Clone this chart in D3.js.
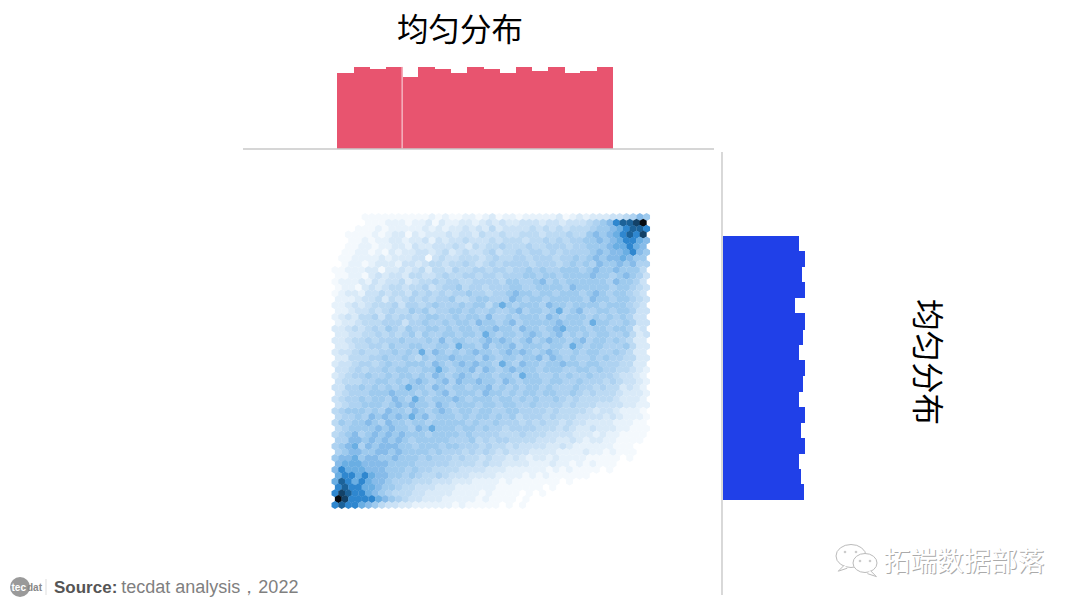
<!DOCTYPE html>
<html><head><meta charset="utf-8">
<script src="https://cdn.jsdelivr.net/npm/d3@7/dist/d3.min.js"></script>
<style>html,body{margin:0;padding:0;background:#fff}svg{display:block}</style>
</head><body><svg id="c" width="1080" height="608"></svg>
<script>
const titleText = "均匀分布";
const topCounts = [76,82,79.5,82,72,82,80,76,82,80,76,82,78,82,76,78,81.5];
const rightCounts = [76,82.3,79.3,82.3,72.3,82.3,80.3,76,82.3,80.3,76,82.3,78,82.3,76,78,81.3];
const levelNames = "0123456789abcd";
const levelColors = ["#ffffff","#f4f9fd","#e7f2fb","#d9eaf8","#cbe2f6","#bcdaf3","#aed2f1","#9ecaee","#86bbe9","#6aaee3","#2f87cf","#1c6299","#134268","#050a10"];
const densityRows = [
"0000111111 1111212112 2123122122 2223123233 3445687",
"0000011122 2122313223 3234343344 4344344456 78abbcd",
"0001112122 2223232334 3435344445 4545455567 789abba",
"0011112123 3132333434 4354454455 5455565578 789abac",
"0011212233 2334243445 4445455545 5656566778 789aa98",
"0011221223 3243344454 3545565556 5566656677 7899a98",
"0112212132 3344345345 4456455656 6565666678 7889a87",
"0112222323 3344145445 5545655665 6665667678 7889877",
"0122123332 4434554556 5456566665 6665676768 7787866",
"1122233133 4345355465 5665665667 6766777678 7787775",
"1122134344 3554456556 6566566677 6776777787 7678764",
"1222324344 5345565665 5666657766 7867677777 7687764",
"1221343455 4556456675 6656667766 7777687777 7677654",
"1233244545 5465656566 7665667877 6776777678 7677654",
"2223445354 5656566755 6776668767 7677777687 7677654",
"2234345556 4665676667 6775797677 7687767777 6777654",
"2234454565 5767566776 7667667867 7679678667 7677644",
"2343556465 6656776676 7768667677 7687677767 6767644",
"2334555666 4667667677 6877678677 7778777697 7667644",
"3345456576 5766776767 7677877687 7678977767 7677634",
"3344556565 6757667767 7697677678 7678676767 7667534",
"3345565666 7666768677 6678787678 6787767867 7676533",
"3345566576 6776677697 7686778677 7677697677 6667533",
"3445655667 6769687676 7877678787 6787667677 6676533",
"3355566766 7657677877 7687677677 8687676676 7665533",
"3445665676 6777687678 7877697687 7677877677 6665533",
"4456566767 7667797677 8687678777 6777667767 6655432",
"3456676676 7767687678 7677677697 7667676676 6654432",
"4555667767 6787678687 7877687677 7677667666 5654432",
"4466767676 7977687677 6778676767 7676667665 6553432",
"4566677787 7767678677 7687767677 6776676565 5543332",
"4566767768 7697677787 6777677676 7667656555 5543332",
"4566777678 7877687677 7677677667 6666565554 4443322",
"5677767687 7687678767 7677667766 6656555543 4432221",
"5667687878 7978677767 6776767566 6565554444 3432221",
"5767787687 7677677777 6766766656 5655454433 3322211",
"5677778787 7687977767 7676656666 5554543343 3322111",
"5678678787 8777677776 7666655565 5544443332 3221111",
"6688787878 7677777666 7565665555 4443343233 2211110",
"6789687888 7767776776 6656554544 4433432222 2211100",
"6788778878 7777676665 6565454443 3332222322 1211100",
"7889788778 7776766656 5545443432 3323222211 1110100",
"8999888877 7766666555 5454433332 2232212121 1100000",
"8a99988877 7676655554 4443332222 2212121111 0100000",
"9aa9a98877 6765565444 3333222212 1211111100 0000000",
"9ba9a98876 6655544433 3222212111 1111010000 0000000",
"abaa998776 5544433322 2222111111 1010000000 0000000",
"acbaa98765 5544333322 2212111101 0100000000 0000000",
"dcaaaa9876 5443332222 2121111010 0000000000 0000000",
"abaa987544 3322222212 1111101010 0000000000 0000000"
];

const svg = d3.select("#c");
const cjk = "'Noto Sans CJK SC','Noto Sans',sans-serif";

// hexbin
const cols = d3.max(densityRows, r => r.replace(/ /g,"").length);
const hx = d3.scaleLinear().domain([0, cols - 1]).range([335, 643.2]);
const hy = d3.scaleLinear().domain([0, densityRows.length - 1]).range([217, 505]);
const step = hx(1) - hx(0);
const radius = step / Math.sqrt(3) + 0.15;
const color = d3.scaleOrdinal(levelNames.split(""), levelColors);
const hexPath = d3.line()(d3.range(6).map(i => {
  const a = Math.PI / 3 * i - Math.PI / 2;
  return [radius * Math.cos(a), radius * Math.sin(a)];
})) + "Z";
const cells = densityRows.flatMap((r, ri) =>
  r.replace(/ /g,"").split("").map((v, ci) => ({ri, ci, v})));
svg.append("g").style("filter","blur(0.6px)").selectAll("path")
  .data(cells.filter(d => d.v !== "0")).join("path")
  .attr("d", hexPath)
  .attr("fill", d => color(d.v))
  .attr("transform", d => {
    const off = (densityRows.length - 1 - d.ri) % 2 ? step / 2 : 0;
    return `translate(${hx(d.ci) + off},${hy(d.ri)})`;
  });

// top histogram
const tx = d3.scaleBand().domain(d3.range(topCounts.length)).range([337.3, 612.8]).paddingInner(0);
const ty = d3.scaleLinear().domain([0, 100]).range([148.5, 48.5]);
svg.append("g").attr("shape-rendering","crispEdges").selectAll("rect").data(topCounts).join("rect")
  .attr("x", (d,i) => tx(i)).attr("width", tx.bandwidth() + 0.6)
  .attr("y", d => ty(d)).attr("height", d => ty(0) - ty(d))
  .attr("fill", "#e8546f");
svg.append("line").attr("x1", tx(4)).attr("x2", tx(4)).attr("y1", ty(topCounts[3]) ).attr("y2", ty(0))
  .attr("stroke", "#fbe3e7").attr("stroke-width", 1);
svg.append("line").attr("x1", 243).attr("x2", 714).attr("y1", 149).attr("y2", 149)
  .attr("stroke", "#c8c8c8").attr("stroke-width", 1.5);

// right histogram
const ry = d3.scaleBand().domain(d3.range(rightCounts.length)).range([235.7, 499.8]).paddingInner(0);
const rx = d3.scaleLinear().domain([0, 100]).range([723, 823]);
svg.append("g").attr("shape-rendering","crispEdges").selectAll("rect").data(rightCounts).join("rect")
  .attr("x", rx(0)).attr("width", d => rx(d) - rx(0))
  .attr("y", (d,i) => ry(i)).attr("height", ry.bandwidth() + 0.6)
  .attr("fill", "#2040e8");
svg.append("line").attr("x1", 722).attr("x2", 722).attr("y1", 152).attr("y2", 595)
  .attr("stroke", "#c4c4c4").attr("stroke-width", 1.3);

// titles
svg.append("text").attr("x", 460).attr("y", 40.5).attr("text-anchor", "middle")
  .attr("font-family", cjk).attr("font-size", 31.5).attr("fill", "#000").text(titleText);
svg.append("text").attr("transform", "translate(916,362) rotate(90)").attr("text-anchor", "middle")
  .attr("font-family", cjk).attr("font-size", 31.5).attr("fill", "#000").text(titleText);

// source
const src = svg.append("g");
src.append("circle").attr("cx", 20).attr("cy", 587).attr("r", 10).attr("fill", "#9a9a9a");
src.append("text").attr("x", 11.5).attr("y", 590.5).attr("font-family","'Liberation Sans',sans-serif").attr("font-size", 10).attr("font-weight","bold").attr("fill","#fff").text("tec");
src.append("text").attr("x", 27).attr("y", 590.5).attr("font-family","'Liberation Sans',sans-serif").attr("font-size", 10).attr("font-weight","bold").attr("fill","#888").text("dat");
src.append("line").attr("x1",46).attr("x2",46).attr("y1",579).attr("y2",595).attr("stroke","#ddd");
const st = src.append("text").attr("x", 54).attr("y", 593).attr("font-family","'Liberation Sans',sans-serif").attr("font-size", 18);
st.append("tspan").attr("fill","#555").attr("font-weight","bold").attr("font-size",17).text("Source:");
st.append("tspan").attr("fill","#808080").attr("dx",4).text("tecdat analysis，2022");

// watermark
const wm = svg.append("g");
const bubble = (cx, cy, rx_, ry_, tailDir) => {
  wm.append("ellipse").attr("cx",cx).attr("cy",cy).attr("rx",rx_).attr("ry",ry_)
    .attr("fill","#fff").attr("stroke","#bbb").attr("stroke-width",1);
  wm.append("path").attr("d",`M${cx+tailDir*rx_*0.45},${cy+ry_*0.8}l${tailDir*6},6l${-tailDir*9},-3`)
    .attr("fill","#fff").attr("stroke","#bbb").attr("stroke-width",1);
};
bubble(851, 556, 15, 11.5, -1);
bubble(865, 563, 12, 9.5, 1);
[[845,552],[856,552],[860,561],[870,561]].forEach(p =>
  wm.append("circle").attr("cx",p[0]).attr("cy",p[1]).attr("r",1.3).attr("fill","#ccc"));
wm.append("text").attr("x",884.5).attr("y",571.5).attr("font-family",cjk).attr("font-size",26.8)
  .attr("fill","#aaa").text("拓端数据部落");
wm.append("text").attr("x",883.5).attr("y",570.5).attr("font-family",cjk).attr("font-size",26.8)
  .attr("fill","#fff").text("拓端数据部落");
</script></body></html>
